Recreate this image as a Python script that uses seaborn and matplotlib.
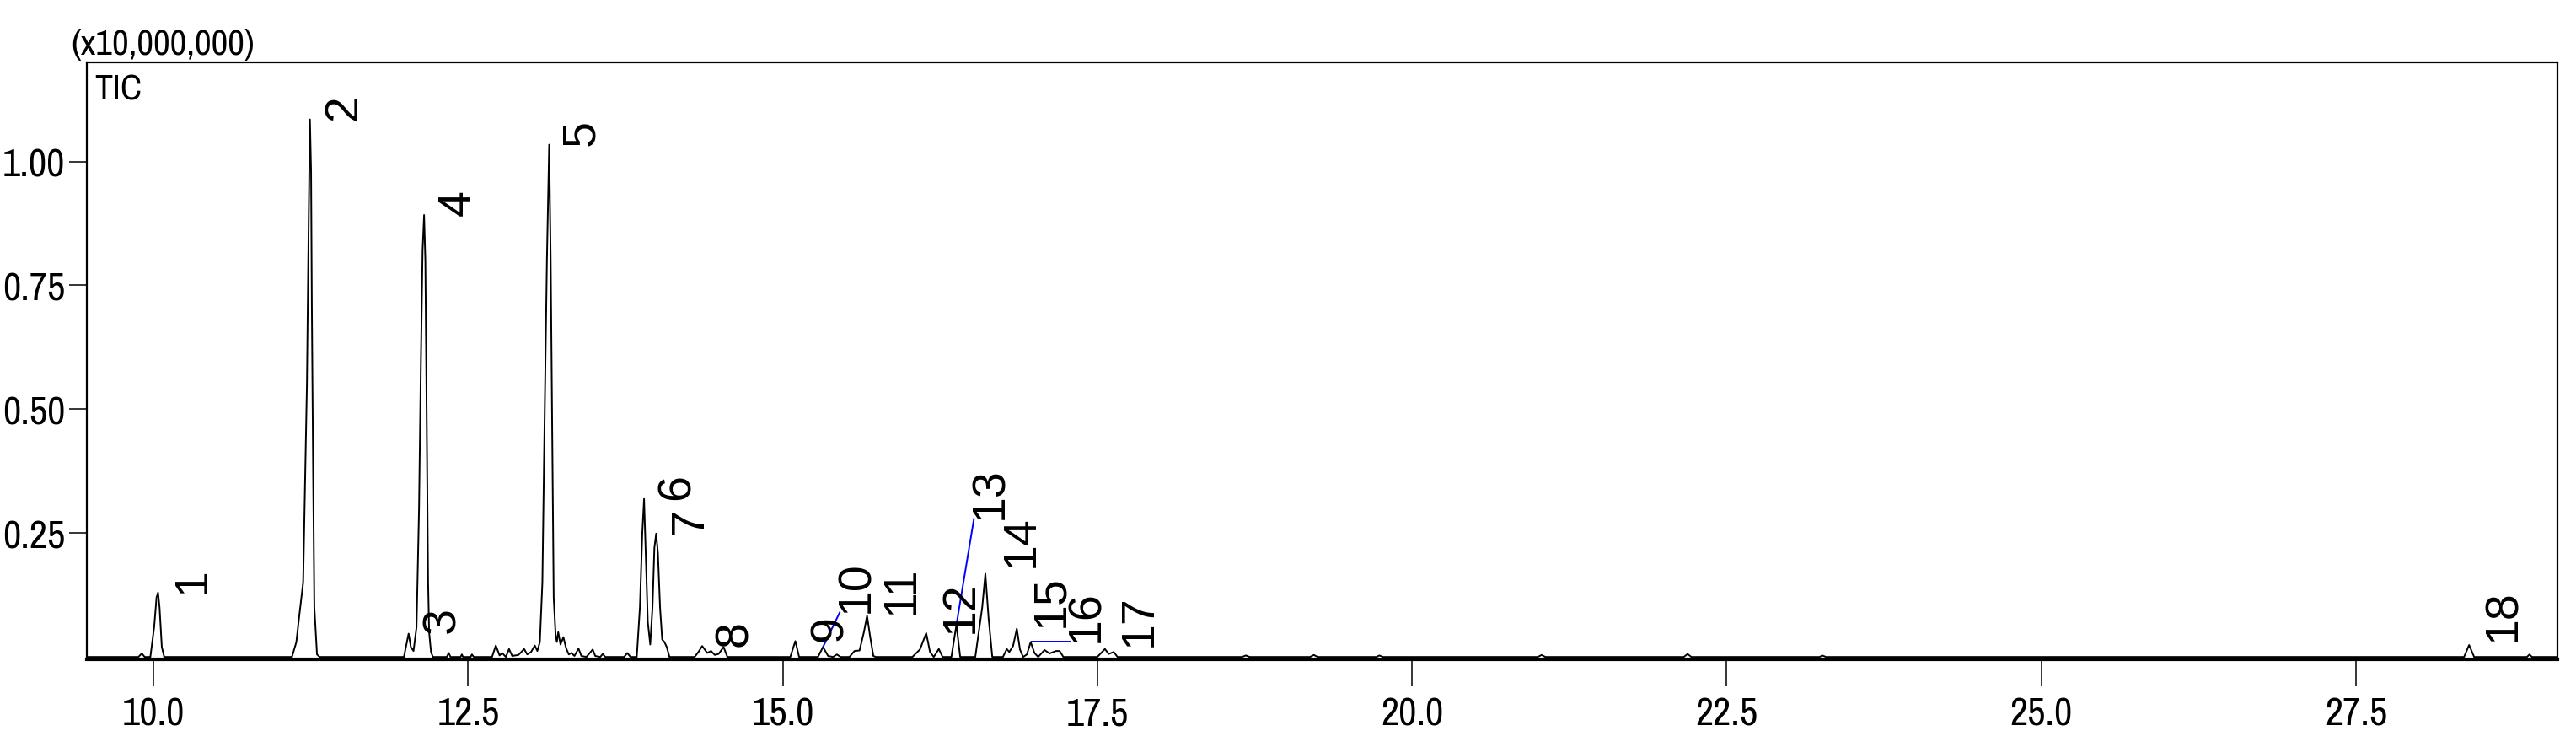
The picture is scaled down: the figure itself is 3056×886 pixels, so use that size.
import matplotlib
matplotlib.use("Agg")
import matplotlib.pyplot as plt
from matplotlib import font_manager
from matplotlib.font_manager import FontProperties
from matplotlib.ticker import MultipleLocator, FixedLocator, FormatStrFormatter
import seaborn as sns
import pandas as pd

# ---- data (time in min, intensity in x10,000,000) ----
trace_time = [
    9.47, 9.88, 9.907, 9.93,
    9.975, 10.005, 10.024, 10.036, 10.048, 10.066, 10.085,
    11.10, 11.135, 11.159, 11.189, 11.204, 11.219, 11.234, 11.243, 11.252, 11.258, 11.269, 11.278, 11.299, 11.32,
    11.99, 12.027, 12.045, 12.066, 12.09, 12.11, 12.125, 12.138, 12.15, 12.160, 12.172, 12.182, 12.19, 12.205, 12.22,
    12.33, 12.346, 12.36, 12.44, 12.45, 12.46, 12.52, 12.53, 12.545,
    12.69, 12.72, 12.75, 12.77, 12.80, 12.825, 12.85, 12.90, 12.945, 12.97, 13.00, 13.03, 13.05, 13.07, 13.09,
    13.105, 13.126, 13.144, 13.156, 13.168, 13.18, 13.195, 13.205, 13.216, 13.234, 13.257, 13.278, 13.30, 13.32,
    13.345, 13.377, 13.40, 13.44, 13.49, 13.51, 13.55, 13.57, 13.59,
    13.74, 13.765, 13.79, 13.84, 13.865, 13.884, 13.898, 13.912, 13.928, 13.947, 13.965, 13.98, 13.994, 14.008,
    14.025, 14.042, 14.06, 14.078, 14.10,
    14.30, 14.33, 14.36, 14.40, 14.43, 14.46, 14.49, 14.53, 14.56,
    15.06, 15.10, 15.13,
    15.28, 15.32, 15.36, 15.40, 15.43, 15.46,
    15.53, 15.57, 15.61, 15.645, 15.67, 15.695, 15.72, 15.74,
    16.03, 16.09, 16.14, 16.17, 16.20, 16.24, 16.27, 16.34, 16.38, 16.41,
    16.53, 16.585, 16.61, 16.635, 16.665,
    16.75, 16.78, 16.80, 16.83, 16.86, 16.885, 16.91, 16.94, 16.97, 17.00, 17.03, 17.08, 17.12, 17.17, 17.20, 17.23,
    17.50, 17.56, 17.59, 17.63, 17.66,
    18.65, 18.68, 18.71,
    19.19, 19.22, 19.25,
    19.72, 19.74, 19.77,
    21.00, 21.03, 21.06,
    22.16, 22.19, 22.22,
    23.24, 23.26, 23.29,
    28.36, 28.40, 28.44,
    28.86, 28.88, 28.90,
    29.10,
]
trace_intensity = [
    0.0, 0.0, 0.007, 0.0,
    0.0, 0.06, 0.12, 0.13, 0.10, 0.02, 0.0,
    0.0, 0.03, 0.085, 0.15, 0.35, 0.55, 0.90, 1.085, 0.98, 0.71, 0.35, 0.10, 0.005, 0.0,
    0.0, 0.047, 0.02, 0.012, 0.06, 0.30, 0.60, 0.82, 0.892, 0.80, 0.45, 0.15, 0.05, 0.01, 0.0,
    0.0, 0.008, 0.0, 0.0, 0.005, 0.0, 0.0, 0.005, 0.0,
    0.0, 0.023, 0.003, 0.008, 0.0, 0.016, 0.002, 0.004, 0.016, 0.005, 0.010, 0.023, 0.012, 0.03, 0.15,
    0.43, 0.80, 1.034, 0.80, 0.45, 0.12, 0.045, 0.03, 0.05, 0.025, 0.04, 0.018, 0.005, 0.008,
    0.002, 0.017, 0.002, 0.0, 0.015, 0.002, 0.0, 0.006, 0.0,
    0.0, 0.008, 0.0, 0.0, 0.10, 0.25, 0.319, 0.20, 0.07, 0.025, 0.10, 0.22, 0.249, 0.21,
    0.10, 0.035, 0.03, 0.02, 0.0,
    0.0, 0.01, 0.022, 0.008, 0.012, 0.004, 0.006, 0.02, 0.0,
    0.0, 0.032, 0.0,
    0.0, 0.02, 0.002, 0.0, 0.005, 0.0,
    0.0, 0.012, 0.013, 0.05, 0.083, 0.04, 0.002, 0.0,
    0.0, 0.015, 0.048, 0.01, 0.0, 0.016, 0.0, 0.0, 0.065, 0.0,
    0.0, 0.10, 0.168, 0.08, 0.0,
    0.0, 0.016, 0.01, 0.022, 0.057, 0.015, 0.0, 0.005, 0.03, 0.008, 0.0, 0.014, 0.007, 0.012, 0.012, 0.0,
    0.0, 0.016, 0.006, 0.01, 0.0,
    0.0, 0.003, 0.0,
    0.0, 0.004, 0.0,
    0.0, 0.003, 0.0,
    0.0, 0.004, 0.0,
    0.0, 0.006, 0.0,
    0.0, 0.003, 0.0,
    0.0, 0.024, 0.0,
    0.0, 0.005, 0.0,
    0.0,
]

peak_ids = ["1", "2", "3", "4", "5", "6", "7", "8", "9", "10",
            "11", "12", "13", "14", "15", "16", "17", "18"]
label_time = [10.14, 11.34, 12.126, 12.245, 13.23, 13.99, 14.09, 14.45, 15.20, 15.41,
              15.77, 16.24, 16.48, 16.72, 16.96, 17.24, 17.66, 28.50]
label_level = [0.13, 1.085, 0.049, 0.892, 1.034, 0.319, 0.249, 0.022, 0.033, 0.091,
               0.087, 0.05, 0.28, 0.183, 0.062, 0.031, 0.022, 0.033]

# leader lines (peak apex -> label)
leader_ids = ["10", "13", "16"]
leader_t0 = [15.32, 16.38, 16.975]
leader_y0 = [0.02, 0.065, 0.031]
leader_t1 = [15.455, 16.52, 17.29]
leader_y1 = [0.091, 0.28, 0.031]

y_tick_values = [0.25, 0.50, 0.75, 1.00]
scale_label = "(x10,000,000)"
trace_label = "TIC"

# ---- style ----
sns.set_theme(style="white")
plt.rcParams["font.family"] = ["DejaVu Sans"]


def pick_narrow_font():
    best = None
    for f in font_manager.fontManager.ttflist:
        key = (f.name + " " + f.fname).lower()
        if f.style != "normal" or f.weight not in (400, "normal", "regular", "book"):
            continue
        stretch = str(f.stretch).lower()
        if "narrow" in key:
            rank = 0
        elif "extracondensed" in key or "extra-condensed" in stretch or "ultra-condensed" in stretch \
                or "extra condensed" in key:
            rank = 1
        elif ("condensed" in key or stretch == "condensed") and "semi" not in key:
            rank = 2
        elif "semicondensed" in key or "semi-condensed" in stretch:
            rank = 3
        else:
            continue
        if best is None or rank < best[0]:
            best = (rank, f.fname)
    if best is None:
        return FontProperties(family="DejaVu Sans", stretch="condensed")
    return FontProperties(fname=best[1])


narrow_fp = pick_narrow_font()

fig = plt.figure(figsize=(30.56, 8.87), dpi=100)
renderer = fig.canvas.get_renderer()


def fitted(text, fp, target_px, max_pt):
    p = fp.copy()
    p.set_size(20)
    t = fig.text(0, 0, text, fontproperties=p)
    w = t.get_window_extent(renderer=renderer).width
    t.remove()
    q = fp.copy()
    q.set_size(min(max_pt, 20 * target_px / w))
    return q


tick_fp = fitted("27.5", narrow_fp, 74, 40)
scale_fp = fitted(scale_label, narrow_fp, 218, 40)
tic_fp = fitted(trace_label, narrow_fp, 56, 36)

ax = fig.add_axes([0.0337, 0.1178, 0.959, 0.7976])

df = pd.DataFrame({"time": trace_time, "intensity": trace_intensity})
sns.lineplot(data=df, x="time", y="intensity", ax=ax, color="black",
             linewidth=1.4, estimator=None, sort=False)

ax.set_xlim(9.47, 29.1)
ax.set_ylim(-0.004, 1.20)
ax.set_xlabel("")
ax.set_ylabel("")

ax.xaxis.set_major_locator(MultipleLocator(2.5))
ax.xaxis.set_minor_locator(MultipleLocator(0.5))
ax.xaxis.set_major_formatter(FormatStrFormatter("%.1f"))
ax.yaxis.set_major_locator(FixedLocator(y_tick_values))
ax.yaxis.set_minor_locator(MultipleLocator(0.05))
ax.yaxis.set_major_formatter(FormatStrFormatter("%.2f"))

ax.tick_params(axis="x", which="major", direction="out", length=23, width=1.1,
               pad=9, colors="black")
ax.tick_params(axis="x", which="minor", direction="out", length=12, width=1.1, colors="black")
ax.tick_params(axis="y", which="major", direction="out", length=15, width=1.1,
               pad=3.5, colors="black")
ax.tick_params(axis="y", which="minor", direction="out", length=7.5, width=1.1, colors="black")
ax.tick_params(left=True, bottom=True)
for lbl in ax.get_xticklabels() + ax.get_yticklabels():
    lbl.set_fontproperties(tick_fp)

for name, sp in ax.spines.items():
    sp.set_visible(True)
    sp.set_color("black")
    sp.set_linewidth(1.6)
ax.spines["bottom"].set_linewidth(3.0)

# peak labels
for pid, tx, ty in zip(peak_ids, label_time, label_level):
    ax.text(tx, ty, pid, rotation=90, ha="left", va="bottom", fontsize=40,
            family=["Liberation Sans", "DejaVu Sans"], color="black")

# leader lines
for t0, y0, t1, y1 in zip(leader_t0, leader_y0, leader_t1, leader_y1):
    ax.plot([t0, t1], [y0, y1], color="#0000ff", linewidth=1.4, solid_capstyle="butt")

ax.text(0.003, 0.939, trace_label, transform=ax.transAxes, ha="left", va="baseline",
        fontproperties=tic_fp, color="black")
fig.text(0.0275, 0.927, scale_label, ha="left", va="baseline", fontproperties=scale_fp,
         color="black")

fig.savefig("out.png", dpi=100, facecolor="white")
